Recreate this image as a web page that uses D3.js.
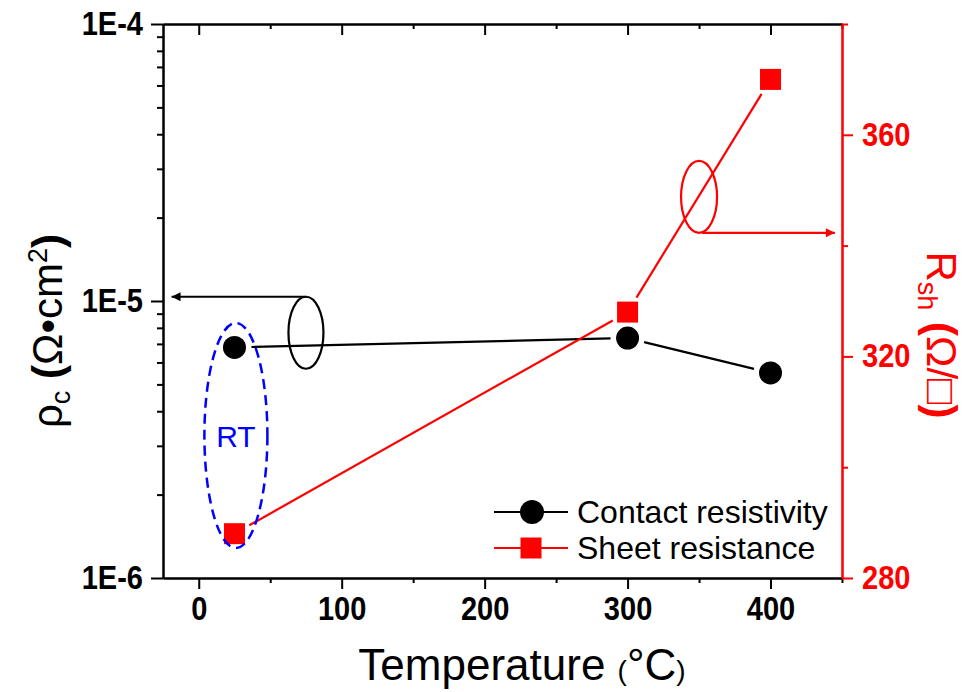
<!DOCTYPE html>
<html>
<head>
<meta charset="utf-8">
<script src="https://cdn.jsdelivr.net/npm/d3@7"></script>
<style>
  html, body { margin: 0; padding: 0; background: #fff; }
  svg { display: block; font-family: "Liberation Sans", Arial, sans-serif; }
</style>
</head>
<body>
<svg id="chart" width="965" height="692"></svg>
<script>
// ---- data ----
const temps = [25, 300, 400];
const contactRes = [6.8e-6, 7.35e-6, 5.5e-6];     // Ω·cm², left log axis
const sheetRes = [288, 328, 370];                 // Ω/□, right axis
const xTicks = [0, 100, 200, 300, 400];
const xMinorTicks = [50, 150, 250, 350, 450];
const leftTicks = [1e-6, 1e-5, 1e-4];
const leftTickLabels = ["1E-6", "1E-5", "1E-4"];
const rightTicks = [280, 320, 360];
const rightMinorTicks = [300, 340, 380];
const legendLabels = ["Contact resistivity", "Sheet resistance"];

// ---- layout ----
const svg = d3.select("#chart");
const L = 163, R = 842, T = 24, B = 578;

const x = d3.scaleLinear().domain([-25, 450]).range([L, R]);
const yL = d3.scaleLog().domain([1e-6, 1e-4]).range([B, T]);
const yR = d3.scaleLinear().domain([280, 380]).range([B, T]);

const leftMinor = [];
[1e-6, 1e-5].forEach(d => { for (let k = 2; k <= 9; k++) leftMinor.push(d * k); });

function styleAxis(g, color, lw) {
  g.select(".domain").attr("stroke", color).attr("stroke-width", lw);
  g.selectAll(".tick line").attr("stroke", color).attr("stroke-width", lw);
  g.selectAll(".tick text").attr("fill", color);
}
const TICK_FS = 33, COND = 0.88;
function condense(g) {
  g.selectAll(".tick text")
    .attr("font-size", TICK_FS).attr("font-weight", "bold")
    .attr("font-family", "'Liberation Sans', Arial, sans-serif")
    .each(function () {
      const t = d3.select(this);
      const xx = +t.attr("x") || 0;
      t.attr("x", 0).attr("transform", `translate(${xx},0) scale(${COND},1)`);
    });
}

// bottom axis
const gb = svg.append("g").attr("transform", `translate(0,${B})`)
  .call(d3.axisBottom(x).tickValues(xTicks).tickSize(11).tickSizeOuter(0).tickPadding(8));
condense(gb);
styleAxis(gb, "#000", 2);
const gbm = svg.append("g").attr("transform", `translate(0,${B})`)
  .call(d3.axisBottom(x).tickValues(xMinorTicks).tickSize(5).tickSizeOuter(0).tickFormat(""));
styleAxis(gbm, "#000", 2);

// top axis (inward ticks)
const gt = svg.append("g").attr("transform", `translate(0,${T})`)
  .call(d3.axisTop(x).tickValues(xTicks).tickSize(-11).tickSizeOuter(0).tickFormat(""));
styleAxis(gt, "#000", 2);
const gtm = svg.append("g").attr("transform", `translate(0,${T})`)
  .call(d3.axisTop(x).tickValues(xMinorTicks).tickSize(-5).tickSizeOuter(0).tickFormat(""));
styleAxis(gtm, "#000", 2);

// left axis (log)
const gl = svg.append("g").attr("transform", `translate(${L},0)`)
  .call(d3.axisLeft(yL).tickValues(leftTicks).tickFormat((d, i) => leftTickLabels[i])
    .tickSize(12).tickSizeOuter(0).tickPadding(8));
condense(gl);
styleAxis(gl, "#000", 2);
const glm = svg.append("g").attr("transform", `translate(${L},0)`)
  .call(d3.axisLeft(yL).tickValues(leftMinor).tickFormat("").tickSize(6).tickSizeOuter(0));
styleAxis(glm, "#000", 2);

// right axis (red)
const gr = svg.append("g").attr("transform", `translate(${R},0)`)
  .call(d3.axisRight(yR).tickValues(rightTicks).tickSize(11).tickSizeOuter(0).tickPadding(9));
condense(gr);
styleAxis(gr, "red", 2);
const grm = svg.append("g").attr("transform", `translate(${R},0)`)
  .call(d3.axisRight(yR).tickValues(rightMinorTicks).tickFormat("").tickSize(6).tickSizeOuter(0));
styleAxis(grm, "red", 2);

// ---- series lines (gapped, Origin style) ----
const GAP = 17;
function gappedSegments(pts) {
  const segs = [];
  for (let i = 0; i < pts.length - 1; i++) {
    const [x1, y1] = pts[i], [x2, y2] = pts[i + 1];
    const dx = x2 - x1, dy = y2 - y1, len = Math.hypot(dx, dy);
    const ux = dx / len, uy = dy / len;
    segs.push([x1 + ux * GAP, y1 + uy * GAP, x2 - ux * GAP, y2 - uy * GAP]);
  }
  return segs;
}
const ptsC = temps.map((t, i) => [x(t), yL(contactRes[i])]);
const ptsS = temps.map((t, i) => [x(t), yR(sheetRes[i])]);

svg.append("g").selectAll("line").data(gappedSegments(ptsC)).join("line")
  .attr("x1", d => d[0]).attr("y1", d => d[1]).attr("x2", d => d[2]).attr("y2", d => d[3])
  .attr("stroke", "#000").attr("stroke-width", 2.2);
svg.append("g").selectAll("line").data(gappedSegments(ptsS)).join("line")
  .attr("x1", d => d[0]).attr("y1", d => d[1]).attr("x2", d => d[2]).attr("y2", d => d[3])
  .attr("stroke", "red").attr("stroke-width", 2.2);

// markers
svg.append("g").selectAll("circle").data(ptsC).join("circle")
  .attr("cx", d => d[0]).attr("cy", d => d[1]).attr("r", 11.5).attr("fill", "#000");
const SQ = 21;
svg.append("g").selectAll("rect").data(ptsS).join("rect")
  .attr("x", d => d[0] - SQ / 2).attr("y", d => d[1] - SQ / 2)
  .attr("width", SQ).attr("height", SQ).attr("fill", "red");

// ---- annotations ----
const defs = svg.append("defs");
function marker(id, color) {
  defs.append("marker").attr("id", id).attr("viewBox", "0 0 10 10")
    .attr("refX", 10).attr("refY", 5).attr("markerWidth", 14).attr("markerHeight", 9)
    .attr("markerUnits", "userSpaceOnUse").attr("orient", "auto")
    .append("path").attr("d", "M0,0 L10,5 L0,10 Z").attr("fill", color);
}
marker("arrB", "#000");
marker("arrR", "red");

// black ellipse + arrow to left axis
const bx = x(75), by = yL(7.68e-6);
svg.append("ellipse").attr("cx", bx).attr("cy", by).attr("rx", 17.5).attr("ry", 36)
  .attr("fill", "none").attr("stroke", "#000").attr("stroke-width", 2.2);
svg.append("line").attr("x1", bx).attr("y1", by - 36).attr("x2", x(-19)).attr("y2", by - 36)
  .attr("stroke", "#000").attr("stroke-width", 2.2).attr("marker-end", "url(#arrB)");

// red ellipse + arrow to right axis
const rx0 = x(350), ry0 = yR(348.8);
svg.append("ellipse").attr("cx", rx0).attr("cy", ry0).attr("rx", 18).attr("ry", 36)
  .attr("fill", "none").attr("stroke", "red").attr("stroke-width", 2.2);
svg.append("line").attr("x1", rx0 + 3).attr("y1", ry0 + 36).attr("x2", x(445)).attr("y2", ry0 + 36)
  .attr("stroke", "red").attr("stroke-width", 2.2).attr("marker-end", "url(#arrR)");

// blue dashed RT ellipse
const ex = x(26), ey = 435.5;
svg.append("ellipse").attr("cx", ex).attr("cy", ey).attr("rx", 31.5).attr("ry", 112.5)
  .attr("fill", "none").attr("stroke", "#0000ff").attr("stroke-width", 2.5)
  .attr("stroke-dasharray", "10,6");
svg.append("text").attr("x", ex).attr("y", ey + 11).attr("text-anchor", "middle")
  .attr("font-size", 30).attr("fill", "#0000ff").text("RT");

// ---- legend ----
const legY = [512, 548];
const legColors = ["#000", "red"];
legendLabels.forEach((lab, i) => {
  const g = svg.append("g");
  g.append("line").attr("x1", 494).attr("x2", 568).attr("y1", legY[i]).attr("y2", legY[i])
    .attr("stroke", legColors[i]).attr("stroke-width", 2.2);
  if (i === 0) g.append("circle").attr("cx", 532).attr("cy", legY[i]).attr("r", 12).attr("fill", "#000");
  else g.append("rect").attr("x", 531 - SQ / 2).attr("y", legY[i] - SQ / 2).attr("width", SQ).attr("height", SQ).attr("fill", "red");
  g.append("text").attr("x", 577).attr("y", legY[i] + 11).attr("font-size", 32).attr("fill", "#000").text(lab);
});

// ---- axis titles ----
const xt = svg.append("text").attr("x", 522).attr("y", 680).attr("text-anchor", "middle").attr("fill", "#000");
xt.append("tspan").attr("font-size", 44).text("Temperature ");
xt.append("tspan").attr("font-size", 28).text("(");
xt.append("tspan").attr("font-size", 44).text("°C");
xt.append("tspan").attr("font-size", 28).text(")");

const ylt = svg.append("text").attr("transform", "translate(62,331) rotate(-90)")
  .attr("text-anchor", "middle").attr("fill", "#000");
ylt.append("tspan").attr("font-size", 42).text("ρ");
ylt.append("tspan").attr("font-size", 27).attr("dy", 8).text("c");
ylt.append("tspan").attr("font-size", 42).attr("dy", -8).text(" ");
ylt.append("tspan").attr("font-size", 42).attr("font-weight", "bold").text("(");
ylt.append("tspan").attr("font-size", 42).text("Ω•cm");
ylt.append("tspan").attr("font-size", 27).attr("dy", -15).text("2");
ylt.append("tspan").attr("font-size", 42).attr("font-weight", "bold").attr("dy", 15).text(")");

const yrt = svg.append("text").attr("transform", "translate(927,335) rotate(90)")
  .attr("text-anchor", "middle").attr("fill", "red");
yrt.append("tspan").attr("font-size", 42).text("R");
yrt.append("tspan").attr("font-size", 27).attr("dy", 9).text("sh");
yrt.append("tspan").attr("font-size", 42).attr("dy", -9).text(" ");
yrt.append("tspan").attr("font-size", 42).attr("font-weight", "bold").text("(");
yrt.append("tspan").attr("font-size", 42).text("Ω/□");
yrt.append("tspan").attr("font-size", 42).attr("font-weight", "bold").text(")");
</script>
</body>
</html>
